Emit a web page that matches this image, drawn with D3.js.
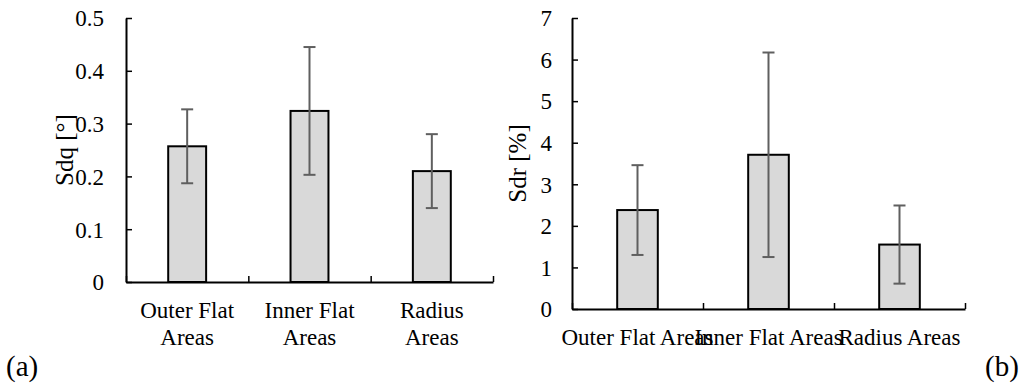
<!DOCTYPE html>
<html>
<head>
<meta charset="utf-8">
<script src="https://cdn.jsdelivr.net/npm/d3@7"></script>
<style>
  html, body { margin: 0; padding: 0; background: #fff; }
  svg { display: block; }
</style>
</head>
<body>
<svg id="chart" width="1022" height="389"></svg>
<script>
// Surface parameters by area
const categories = ["Outer Flat Areas", "Inner Flat Areas", "Radius Areas"];
const categoryLinesA = [["Outer Flat", "Areas"], ["Inner Flat", "Areas"], ["Radius", "Areas"]];

const sdqMean = [0.257, 0.324, 0.210];
const sdqSd   = [0.070, 0.121, 0.070];
const sdqTicks = [0, 0.1, 0.2, 0.3, 0.4, 0.5];
const sdqTickLabels = ["0", "0.1", "0.2", "0.3", "0.4", "0.5"];

const sdrMean = [2.38, 3.71, 1.55];
const sdrSd   = [1.08, 2.46, 0.94];
const sdrTicks = [0, 1, 2, 3, 4, 5, 6, 7];
const sdrTickLabels = ["0", "1", "2", "3", "4", "5", "6", "7"];

const SERIF = "'Liberation Serif', 'Times New Roman', serif";
const svg = d3.select("#chart");

function panel(opts) {
  const g = svg.append("g");
  const x = d3.scaleBand()
    .domain(categories)
    .range([opts.x0, opts.x1])
    .paddingInner(0.69)
    .paddingOuter(0.345);
  const xEdge = d3.scaleLinear().domain([0, categories.length]).range([opts.x0, opts.x1]);
  const y = d3.scaleLinear().domain([0, opts.ticks[opts.ticks.length - 1]]).range([opts.y0, opts.y1]);

  // bars
  g.selectAll("rect.bar")
    .data(opts.mean)
    .join("rect")
    .attr("class", "bar")
    .attr("x", (d, i) => x(categories[i]))
    .attr("width", x.bandwidth())
    .attr("y", d => y(d))
    .attr("height", d => y(0) - y(d))
    .attr("fill", "#d9d9d9")
    .attr("stroke", "#000")
    .attr("stroke-width", 2);

  // error bars
  const err = g.selectAll("g.err")
    .data(opts.mean)
    .join("g")
    .attr("class", "err")
    .attr("stroke", "#5f5f5f")
    .attr("stroke-width", 2);
  const cx = i => x(categories[i]) + x.bandwidth() / 2;
  err.append("line")
    .attr("x1", (d, i) => cx(i)).attr("x2", (d, i) => cx(i))
    .attr("y1", (d, i) => y(d + opts.sd[i])).attr("y2", (d, i) => y(d - opts.sd[i]));
  err.append("line")
    .attr("x1", (d, i) => cx(i) - 6).attr("x2", (d, i) => cx(i) + 6)
    .attr("y1", (d, i) => y(d + opts.sd[i])).attr("y2", (d, i) => y(d + opts.sd[i]));
  err.append("line")
    .attr("x1", (d, i) => cx(i) - 6).attr("x2", (d, i) => cx(i) + 6)
    .attr("y1", (d, i) => y(d - opts.sd[i])).attr("y2", (d, i) => y(d - opts.sd[i]));

  // y axis
  const yAxis = g.append("g")
    .attr("transform", `translate(${opts.x0},0)`)
    .call(d3.axisLeft(y)
      .tickValues(opts.ticks)
      .tickFormat((d, i) => opts.tickLabels[i])
      .tickSizeInner(-6)
      .tickSizeOuter(0)
      .tickPadding(opts.tickPad));
  yAxis.attr("font-family", null).attr("font-size", null);
  yAxis.select(".domain").attr("stroke", "#000").attr("stroke-width", 2);
  yAxis.selectAll(".tick line").attr("stroke", "#000").attr("stroke-width", 1.5);
  yAxis.selectAll(".tick text")
    .style("font-family", SERIF)
    .style("font-size", "23px")
    .attr("fill", "#000")
    .attr("dy", "0.34em");

  // x axis with ticks at category boundaries
  const xAxis = g.append("g")
    .attr("transform", `translate(0,${opts.y0})`)
    .call(d3.axisBottom(xEdge)
      .tickValues(d3.range(categories.length + 1))
      .tickFormat("")
      .tickSizeInner(-6)
      .tickSizeOuter(0));
  xAxis.select(".domain").attr("stroke", "#000").attr("stroke-width", 2);
  xAxis.selectAll(".tick line").attr("stroke", "#000").attr("stroke-width", 1.5);

  // category labels
  const lab = g.selectAll("text.cat")
    .data(opts.labelLines)
    .join("text")
    .attr("class", "cat")
    .attr("text-anchor", "middle")
    .style("font-family", SERIF)
    .style("font-size", "23px")
    .attr("x", (d, i) => cx(i))
    .attr("y", opts.labelY);
  lab.selectAll("tspan")
    .data(d => d)
    .join("tspan")
    .attr("x", function () { return d3.select(this.parentNode).attr("x"); })
    .attr("dy", (d, j) => j === 0 ? 0 : 27)
    .text(d => d);

  // axis title
  g.append("text")
    .attr("transform", `translate(${opts.titleX},${(opts.y0 + opts.y1) / 2}) rotate(-90)`)
    .attr("text-anchor", "middle")
    .style("font-family", SERIF)
    .style("font-size", "25px")
    .text(opts.title);

  // panel letter
  g.append("text")
    .attr("x", opts.letterX)
    .attr("y", 376)
    .style("font-family", SERIF)
    .style("font-size", "29px")
    .text(opts.letter);
}

panel({
  x0: 126, x1: 493, y0: 282, y1: 18,
  mean: sdqMean, sd: sdqSd,
  ticks: sdqTicks, tickLabels: sdqTickLabels, tickPad: 22,
  labelLines: categoryLinesA, labelY: 318,
  title: "Sdq [°]", titleX: 73,
  letter: "(a)", letterX: 6
});

panel({
  x0: 572, x1: 965, y0: 309, y1: 18,
  mean: sdrMean, sd: sdrSd,
  ticks: sdrTicks, tickLabels: sdrTickLabels, tickPad: 20,
  labelLines: categories.map(c => [c]), labelY: 345,
  title: "Sdr [%]", titleX: 526,
  letter: "(b)", letterX: 985
});
</script>
</body>
</html>
